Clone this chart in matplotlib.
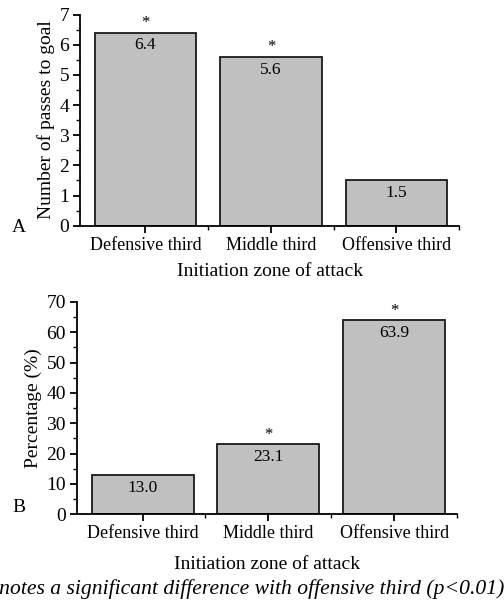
import matplotlib
matplotlib.use("Agg")
import matplotlib.pyplot as plt
from matplotlib.ticker import MultipleLocator

plt.rcParams['font.family'] = ['Liberation Serif', 'DejaVu Serif']

categories = ["Defensive third", "Middle third", "Offensive third"]
passes = [6.4, 5.6, 1.5]
passes_sig = [True, True, False]
percent = [13.0, 23.1, 63.9]
percent_sig = [False, True, True]
xlabel = "Initiation zone of attack"
caption = "*Denotes a significant difference with offensive third (p<0.01)"

fig = plt.figure(figsize=(5.04, 6.05), dpi=100)
ax1 = fig.add_axes([0.159, 0.627, 0.752, 0.349])
ax2 = fig.add_axes([0.153, 0.150, 0.754, 0.351])

def draw(ax, vals, sig, ylim, major, minor, ylabel, fmt, xlabelpad):
    x = list(range(len(categories)))
    bars = ax.bar(x, vals, width=0.81, color="#c0c0c0", edgecolor="#1a1a1a", linewidth=1.3)
    for b, v, s in zip(bars, vals, sig):
        cx = b.get_x() + b.get_width() / 2
        ax.annotate(fmt.format(v), (cx, v), xytext=(0, -3.5), textcoords="offset points",
                    ha="center", va="top", fontsize=12.5)
        if s:
            ax.annotate("*", (cx, v), xytext=(0, 1), textcoords="offset points",
                        ha="center", va="bottom", fontsize=12)
    ax.set_xlim(-0.52, 2.5)
    ax.set_ylim(*ylim)
    ax.set_xticks(x)
    ax.set_xticklabels(categories, fontsize=13)
    ax.set_xticks([0.5, 1.5, 2.5], minor=True)
    ax.yaxis.set_major_locator(MultipleLocator(major))
    ax.yaxis.set_minor_locator(MultipleLocator(minor))
    ax.tick_params(axis="both", which="major", direction="out", length=5, width=1.3, pad=3)
    ax.tick_params(axis="y", which="major", labelsize=14)
    ax.tick_params(axis="both", which="minor", direction="out", length=3, width=1.0)
    for sp in ["top", "right"]:
        ax.spines[sp].set_visible(False)
    for sp in ["left", "bottom"]:
        ax.spines[sp].set_linewidth(1.3)
    ax.set_ylabel(ylabel, fontsize=14, labelpad=3)
    ax.set_xlabel(xlabel, fontsize=14, labelpad=xlabelpad)

draw(ax1, passes, passes_sig, (0, 7), 1, 0.5, "Number of passes to goal", "{:.1f}", 7)
draw(ax2, percent, percent_sig, (0, 70), 10, 5, "Percentage (%)", "{:.1f}", 10)

fig.text(12 / 504, 1 - 228 / 605, "A", fontsize=14, ha="left", va="center")
fig.text(12 / 504, 1 - 507 / 605, "B", fontsize=14, ha="left", va="center")
fig.text(1.0, 1 - 589 / 605, caption, fontsize=15.6, style="italic", ha="right", va="center")

fig.savefig("out.png", dpi=100)
